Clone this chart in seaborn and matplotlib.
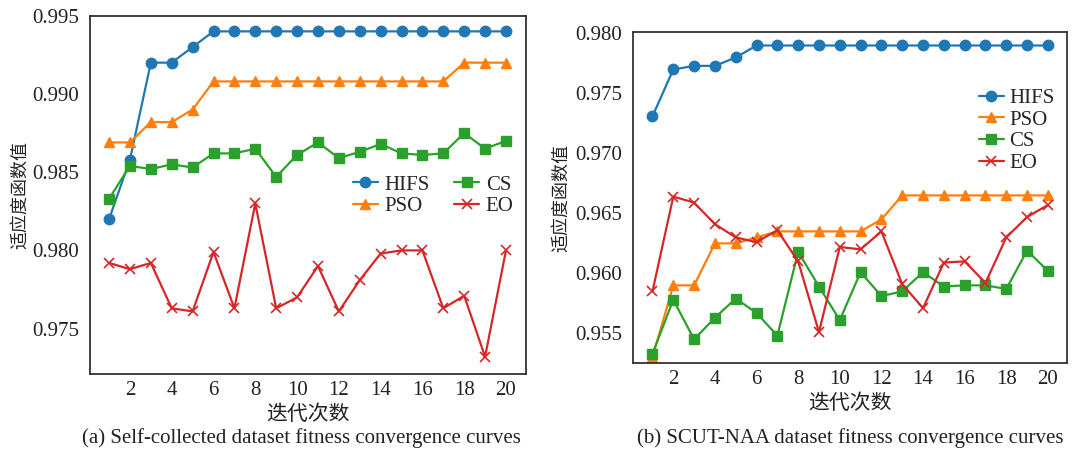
import numpy as np
import pandas as pd
import matplotlib
matplotlib.use("Agg")
import matplotlib.pyplot as plt
from matplotlib.ticker import FormatStrFormatter
import seaborn as sns

iterations = list(range(1, 21))
series_names = ["HIFS", "PSO", "CS", "EO"]

# (a) Self-collected dataset
a_hifs = [0.9820, 0.9858, 0.9920, 0.9920, 0.9930] + [0.9940] * 15
a_pso = [0.9869, 0.9869, 0.9882, 0.9882, 0.9890] + [0.9908] * 12 + [0.9920] * 3
a_cs = [0.9833, 0.9854, 0.9852, 0.9855, 0.9853, 0.9862, 0.9862, 0.9865, 0.9847, 0.9861,
        0.9869, 0.9859, 0.9863, 0.9868, 0.9862, 0.9861, 0.9862, 0.9875, 0.9865, 0.9870]
a_eo = [0.9792, 0.9788, 0.9792, 0.9763, 0.9761, 0.9799, 0.9763, 0.9830, 0.9763, 0.9770,
        0.9790, 0.9761, 0.9781, 0.9798, 0.9800, 0.9800, 0.9763, 0.9771, 0.9732, 0.9800]

# (b) SCUT-NAA dataset
b_hifs = [0.9731, 0.9770, 0.9773, 0.9773, 0.9780] + [0.9790] * 15
b_pso = [0.9530, 0.9590, 0.9590, 0.9625, 0.9625, 0.9630, 0.9635, 0.9635, 0.9635, 0.9635,
         0.9635, 0.9645] + [0.9665] * 8
b_cs = [0.9533, 0.9578, 0.9545, 0.9563, 0.9579, 0.9567, 0.9548, 0.9618, 0.9589, 0.9561,
        0.9601, 0.9581, 0.9585, 0.9601, 0.9589, 0.9590, 0.9590, 0.9587, 0.9619, 0.9602]
b_eo = [0.9585, 0.9664, 0.9659, 0.9641, 0.9630, 0.9626, 0.9636, 0.9610, 0.9551, 0.9622,
        0.9620, 0.9635, 0.9591, 0.9571, 0.9609, 0.9610, 0.9592, 0.9630, 0.9647, 0.9657]

xticks = [2, 4, 6, 8, 10, 12, 14, 16, 18, 20]
a_yticks = [0.975, 0.980, 0.985, 0.990, 0.995]
b_yticks = [0.955, 0.960, 0.965, 0.970, 0.975, 0.980]
xlabel_text = "迭代次数"
ylabel_text = "适应度函数值"
caption_a = "(a) Self-collected dataset fitness convergence curves"
caption_b = "(b) SCUT-NAA dataset fitness convergence curves"

colors = ["#1f77b4", "#ff7f0e", "#2ca02c", "#d62728"]
markers = ["o", "^", "s", "x"]

sns.set_theme(style="white")
plt.rcParams["font.family"] = ["Liberation Serif", "Noto Sans CJK SC", "DejaVu Sans"]
plt.rcParams["axes.unicode_minus"] = False

fig = plt.figure(figsize=(10.72, 4.53), dpi=100)
ax_a = fig.add_axes([0.0840, 0.1744, 0.4067, 0.7909])
ax_b = fig.add_axes([0.5908, 0.1980, 0.4042, 0.7307])

def draw(ax, data, yticks, ylim, xlim, ylabelpad):
    for name, vals, c, m in zip(series_names, data, colors, markers):
        df = pd.DataFrame({"iter": iterations, "val": vals})
        sns.lineplot(data=df, x="iter", y="val", ax=ax, color=c, marker=m,
                     markersize=7.5 if m != "x" else 7, linewidth=1.6,
                     markeredgecolor=c, markeredgewidth=1.0 if m != "x" else 1.2,
                     label=name)
    ax.set_xlim(*xlim)
    ax.set_ylim(*ylim)
    ax.set_xticks(xticks)
    ax.set_yticks(yticks)
    ax.yaxis.set_major_formatter(FormatStrFormatter("%.3f"))
    ax.tick_params(axis="x", direction="in", length=4, width=1.0, labelsize=15,
                   colors="#222222", pad=5)
    ax.tick_params(axis="y", direction="out", length=6, width=1.0, labelsize=15,
                   colors="#222222", pad=2)
    for sp in ax.spines.values():
        sp.set_color("#333333")
        sp.set_linewidth(1.3)
    ax.set_xlabel(xlabel_text, fontsize=15, family=["Noto Sans CJK SC"], color="#222222",
                  labelpad=2)
    ax.set_ylabel(ylabel_text, fontsize=13, family=["Noto Sans CJK SC"], color="#222222",
                  labelpad=ylabelpad)

draw(ax_a, [a_hifs, a_pso, a_cs, a_eo], a_yticks, (0.9721, 0.9950), (0.09, 20.96), 2)
draw(ax_b, [b_hifs, b_pso, b_cs, b_eo], b_yticks, (0.9525, 0.9801), (0.08, 20.9), 4)

ax_a.legend(ncol=2, loc="lower right", bbox_to_anchor=(1.0, 0.405), frameon=False,
            fontsize=15, handlelength=1.2, handletextpad=0.3, columnspacing=1.2,
            labelspacing=0.1, borderpad=0.1)
ax_b.legend(ncol=1, loc="upper right", bbox_to_anchor=(1.0, 0.868), frameon=False,
            fontsize=15, handlelength=1.2, handletextpad=0.25,
            labelspacing=0.1, borderpad=0.1)

fig.text(0.2815, 0.033, caption_a, ha="center", va="center", fontsize=15, color="#222222")
fig.text(0.7929, 0.033, caption_b, ha="center", va="center", fontsize=15, color="#222222")

fig.savefig("out.png", dpi=100)
